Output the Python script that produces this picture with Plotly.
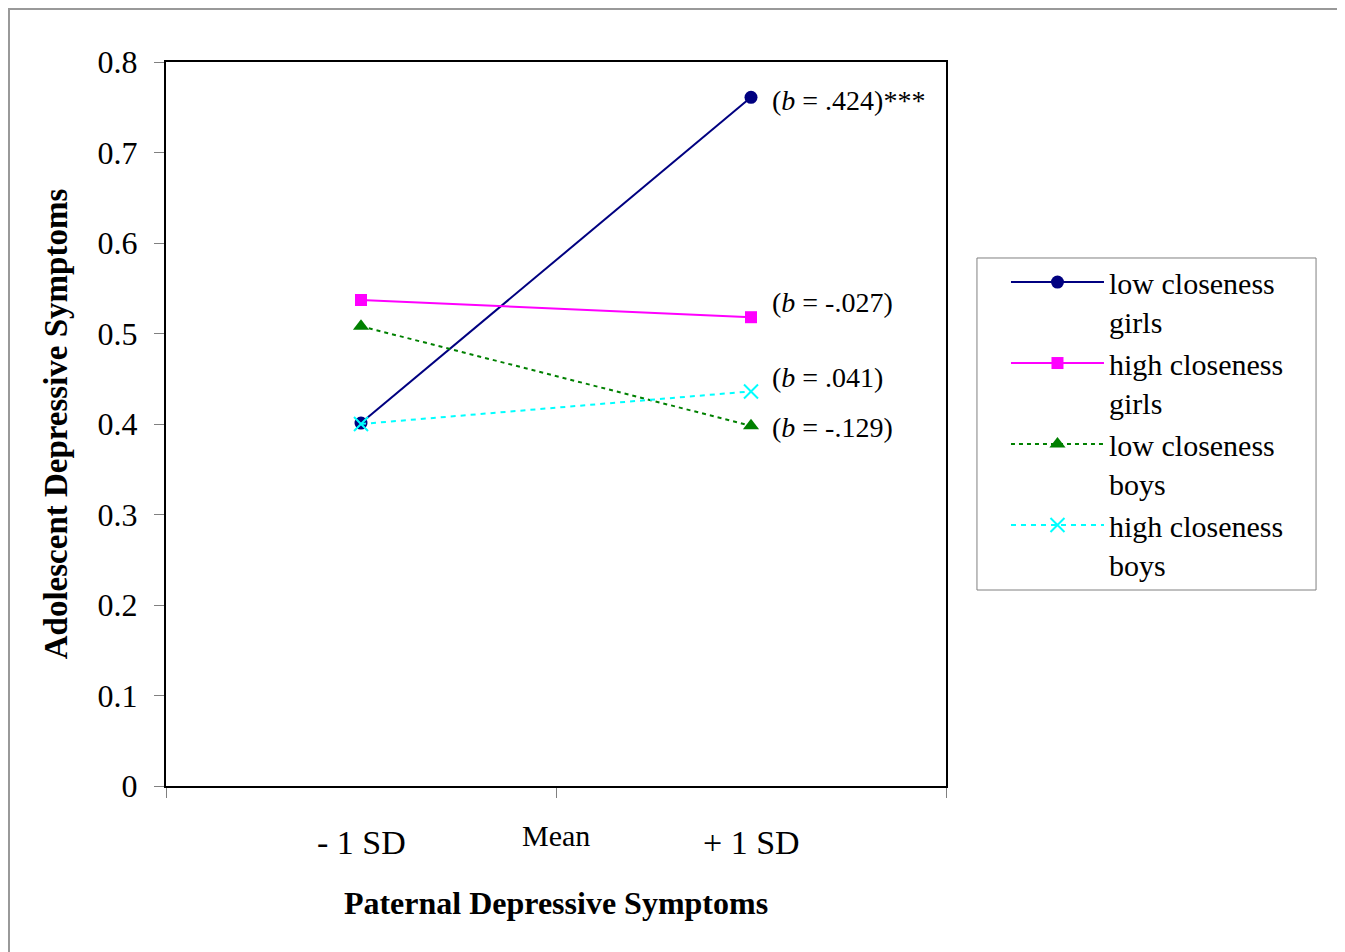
import plotly.graph_objects as go

x_pos = [-1, 1]
x_labels = ["- 1 SD", "Mean", "+ 1 SD"]
x_label_pos = [-1, 0, 1]

names = ["low closeness<br>girls", "high closeness<br>girls", "low closeness<br>boys", "high closeness<br>boys"]
low_girls = [0.401, 0.761]
high_girls = [0.537, 0.518]
low_boys = [0.508, 0.398]
high_boys = [0.400, 0.436]

# slope labels, in the same order as the series
b_labels = ["(<i>b</i> = .424)***", "(<i>b</i> = -.027)", "(<i>b</i> = -.129)", "(<i>b</i> = .041)"]

y_ticks = [0, 0.1, 0.2, 0.3, 0.4, 0.5, 0.6, 0.7, 0.8]
y_ticktext = ["0", "0.1", "0.2", "0.3", "0.4", "0.5", "0.6", "0.7", "0.8"]

SERIF = "Liberation Serif, Times New Roman, serif"

styles = [
    dict(color="#000080", dash="solid", symbol="circle", size=13),
    dict(color="#FF00FF", dash="solid", symbol="square", size=12),
    dict(color="#008000", dash="4px,4px", symbol="triangle-up", size=14),
    dict(color="#00FFFF", dash="5px,5px", symbol="x-thin", size=14),
]
series = [low_girls, high_girls, low_boys, high_boys]

fig = go.Figure()
for name, vals, st in zip(names, series, styles):
    marker = dict(symbol=st["symbol"], size=st["size"], color=st["color"])
    if st["symbol"] == "x-thin":
        marker["line"] = dict(color=st["color"], width=2)
    fig.add_trace(go.Scatter(
        x=x_pos, y=vals, name=name, mode="lines+markers",
        line=dict(color=st["color"], width=2, dash=st["dash"]),
        marker=marker,
    ))

# b annotations at the +1 SD point of each series
shifts = [-3, 15, -2, 14]
for vals, txt, ys in zip(series, b_labels, shifts):
    fig.add_annotation(x=x_pos[1], y=vals[1], text=txt, showarrow=False,
                       xanchor="left", yanchor="middle", xshift=19, yshift=ys,
                       font=dict(family=SERIF, size=28, color="black"))

# x category labels
for xv, lab in zip(x_label_pos, x_labels):
    is_mean = lab == "Mean"
    fig.add_annotation(x=xv, y=0, yref="paper", text=lab, showarrow=False,
                       xanchor="center", yanchor="middle",
                       yshift=-49 if is_mean else -56,
                       font=dict(family=SERIF, size=30 if is_mean else 34, color="black"))

# outer frame
fig.add_shape(type="rect", xref="paper", yref="paper",
              x0=-0.2013, x1=1.5026, y0=-0.3, y1=1.0732,
              line=dict(color="#999999", width=2), fillcolor="rgba(0,0,0,0)")

# legend frame
fig.add_shape(type="rect", xref="paper", yref="paper",
              x0=1.0397, x1=1.4744, y0=0.2707, y1=0.7293,
              line=dict(color="#808080", width=1), fillcolor="rgba(0,0,0,0)")

fig.update_layout(
    width=1337, height=944,
    margin=dict(l=158, r=399, t=54, b=166),
    paper_bgcolor="white", plot_bgcolor="white",
    font=dict(family=SERIF, color="black"),
    showlegend=True,
    legend=dict(
        x=1.0769, y=0.732, xanchor="left", yanchor="top",
        borderwidth=0, bgcolor="rgba(0,0,0,0)",
        font=dict(family=SERIF, size=30, color="black"),
        itemwidth=93, valign="top", tracegroupgap=0,
    ),
    xaxis=dict(
        range=[-2, 2], tickvals=[-2, 0, 2], showticklabels=False,
        ticks="outside", ticklen=10, tickcolor="#808080", tickwidth=1,
        showline=True, linecolor="black", linewidth=2, mirror=True,
        showgrid=False, zeroline=False,
        title=dict(text="<b>Paternal Depressive Symptoms</b>",
                   font=dict(family=SERIF, size=32, color="black"), standoff=95),
    ),
    yaxis=dict(
        range=[0, 0.8], tickvals=y_ticks, ticktext=y_ticktext,
        ticks="outside", ticklen=10, tickcolor="#808080", tickwidth=1,
        showline=True, linecolor="black", linewidth=2, mirror=True,
        showgrid=False, zeroline=False, ticklabelstandoff=10,
        tickfont=dict(family=SERIF, size=32, color="black"),
        title=dict(text="<b>Adolescent Depressive Symptoms</b>",
                   font=dict(family=SERIF, size=33, color="black"), standoff=20),
    ),
)

fig.write_html("out.html")
